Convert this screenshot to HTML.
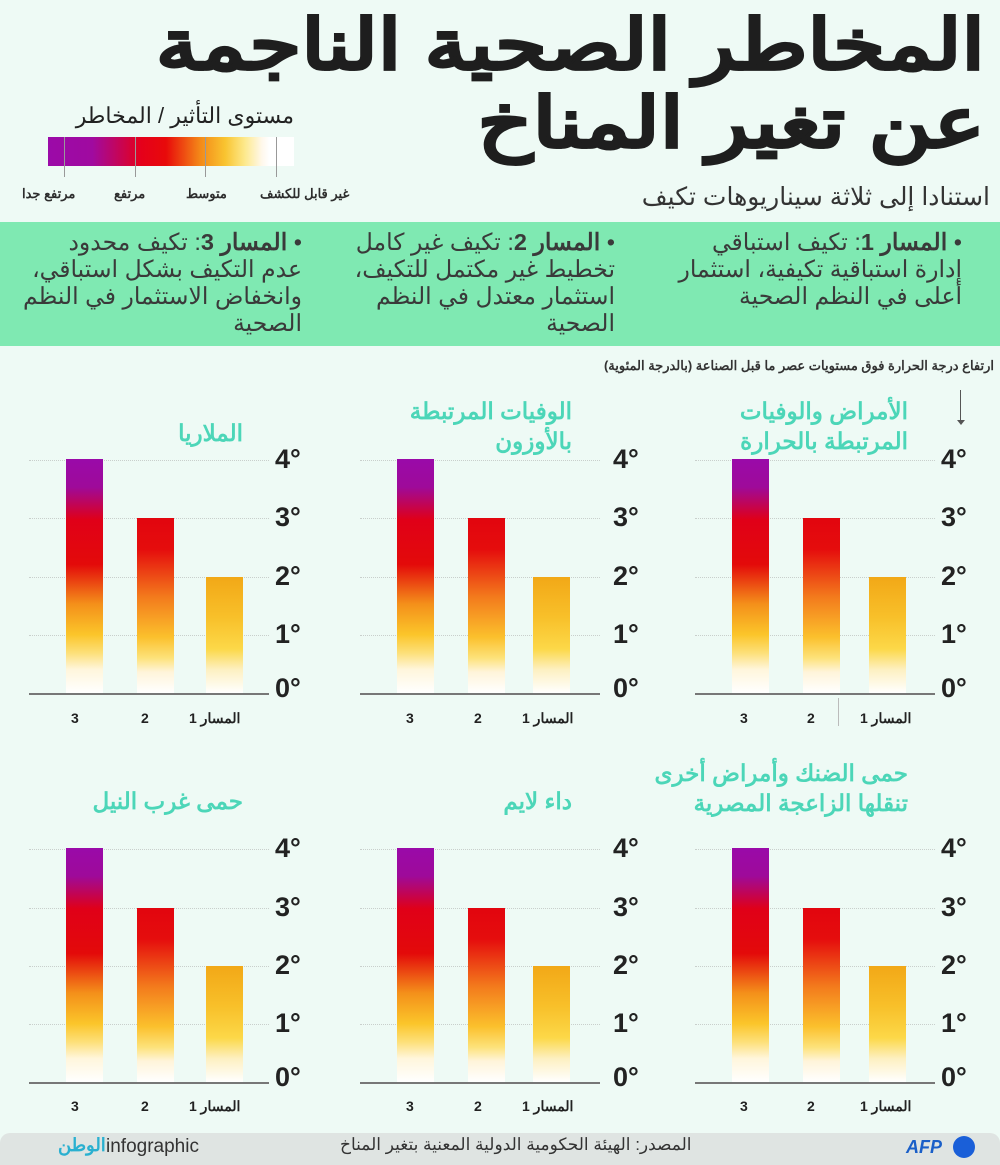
<!DOCTYPE html>
<html><head><meta charset="utf-8">
<style>
*{margin:0;padding:0;box-sizing:border-box}
body{width:1000px;height:1165px;background:#eefaf5;position:relative;overflow:hidden;font-family:"Liberation Sans","Noto Sans CJK SC",sans-serif;color:#2d2d2d}
.a{position:absolute}
.rt{direction:rtl;text-align:right;white-space:nowrap}
.title{right:15px;font-weight:bold;font-size:70px;color:#1e1e1e;line-height:1;transform-origin:right top;-webkit-text-stroke:1.5px #1e1e1e}
.band{left:0;top:222px;width:1000px;height:124px;background:#7fe9b2}
.col{font-size:23.5px;line-height:27px;color:#3a3a3a;direction:rtl;text-align:right;white-space:nowrap}
.ct{font-size:23px;font-weight:bold;color:#4cd6b8;line-height:30px;direction:rtl;text-align:right;white-space:nowrap}
.g{height:0;border-top:1px dotted #c9cfcc;width:240px}
.tk{font-family:"Liberation Sans Narrow","Liberation Sans",sans-serif;font-weight:bold;font-size:27px;color:#222;line-height:1}
.bl{height:2px;background:#777;width:240px}
.xl{font-size:14px;font-weight:bold;color:#222;direction:rtl;white-space:nowrap}
.b3{width:37px;background:linear-gradient(to bottom,#9a0aa9 0%,#9e0a9a 12%,#e00018 26%,#e30a0a 45%,#f4901a 62%,#fbc52a 75%,#fde07a 83%,#fff6dc 90%,#fff 100%)}
.b2{width:37px;background:linear-gradient(to bottom,#e2050e 0%,#e50d0d 18%,#f37a1c 45%,#fbc02c 68%,#fde27a 80%,#fff4da 88%,#fff 100%)}
.b1{width:37px;background:linear-gradient(to bottom,#f2a817 0%,#f8c02a 35%,#fcd848 62%,#fdf0c2 80%,#fff 100%)}
</style></head><body>

<div class="a title rt" style="top:10px;transform:scaleX(1.2)">المخاطر الصحية الناجمة</div>
<div class="a title rt" style="top:88px;transform:scaleX(1.22)">عن تغير المناخ</div>
<div class="a rt" style="right:10px;top:182px;font-size:25px;color:#333">استنادا إلى ثلاثة سيناريوهات تكيف</div>

<!-- legend -->
<div class="a rt" style="left:48px;width:246px;top:103px;font-size:22px;color:#222">مستوى التأثير / المخاطر</div>
<div class="a" style="left:48px;top:137px;width:246px;height:29px;background:linear-gradient(to right,#9b0aa8 0%,#a00aa0 18%,#e5001a 38%,#e80a0a 48%,#f48a18 62%,#f9c430 72%,#fde98c 80%,#fff8ec 87%,#fff 90%,#fff 100%)"></div>
<div class="a" style="left:64px;top:137px;width:1px;height:40px;background:#999"></div>
<div class="a" style="left:135px;top:137px;width:1px;height:40px;background:#999"></div>
<div class="a" style="left:205px;top:137px;width:1px;height:40px;background:#999"></div>
<div class="a" style="left:276px;top:137px;width:1px;height:40px;background:#999"></div>
<div class="a" style="left:22px;top:186px;font-size:13px;font-weight:bold;white-space:nowrap">مرتفع جدا</div>
<div class="a" style="left:114px;top:186px;font-size:13px;font-weight:bold;white-space:nowrap">مرتفع</div>
<div class="a" style="left:186px;top:186px;font-size:13px;font-weight:bold;white-space:nowrap">متوسط</div>
<div class="a" style="left:260px;top:186px;font-size:13px;font-weight:bold;white-space:nowrap">غير قابل للكشف</div>

<div class="a band"></div>
<div class="a col" style="right:38px;top:229px">• <b>المسار 1</b>: تكيف استباقي<br>إدارة استباقية تكيفية، استثمار<br>أعلى في النظم الصحية</div>
<div class="a col" style="right:385px;top:229px">• <b>المسار 2</b>: تكيف غير كامل<br>تخطيط غير مكتمل للتكيف،<br>استثمار معتدل في النظم<br>الصحية</div>
<div class="a col" style="right:698px;top:229px">• <b>المسار 3</b>: تكيف محدود<br>عدم التكيف بشكل استباقي،<br>وانخفاض الاستثمار في النظم<br>الصحية</div>

<div class="a rt" style="right:6px;top:358px;font-size:13px;font-weight:bold;color:#333">ارتفاع درجة الحرارة فوق مستويات عصر ما قبل الصناعة (بالدرجة المئوية)</div>
<div class="a" style="left:960px;top:390px;width:1px;height:32px;background:#555"></div>
<div class="a" style="left:957px;top:420px;width:0;height:0;border-left:4px solid transparent;border-right:4px solid transparent;border-top:5px solid #555"></div>

<!-- chart titles -->
<div class="a ct" style="right:92px;top:396px">الأمراض والوفيات<br>المرتبطة بالحرارة</div>
<div class="a ct" style="right:428px;top:396px">الوفيات المرتبطة<br>بالأوزون</div>
<div class="a ct" style="right:757px;top:418px">الملاريا</div>
<div class="a ct" style="right:92px;top:758px">حمى الضنك وأمراض أخرى<br>تنقلها الزاعجة المصرية</div>
<div class="a ct" style="right:428px;top:786px">داء لايم</div>
<div class="a ct" style="right:757px;top:786px">حمى غرب النيل</div>

<!-- TOP RIGHT -->
<div class="a" style="left:695px;top:0">
 <div class="a g" style="left:0;top:460px"></div><div class="a g" style="left:0;top:518px"></div><div class="a g" style="left:0;top:577px"></div><div class="a g" style="left:0;top:635px"></div>
 <div class="a tk" style="left:246px;top:446px">4°</div><div class="a tk" style="left:246px;top:504px">3°</div><div class="a tk" style="left:246px;top:563px">2°</div><div class="a tk" style="left:246px;top:621px">1°</div><div class="a tk" style="left:246px;top:675px">0°</div>
 <div class="a b3" style="left:37px;top:459px;height:234px"></div>
 <div class="a b2" style="left:108px;top:518px;height:175px"></div>
 <div class="a b1" style="left:174px;top:577px;height:116px"></div>
 <div class="a bl" style="left:0;top:693px"></div>
 <div class="a" style="left:143px;top:698px;width:1px;height:28px;background:#bbb"></div>
 <div class="a xl" style="left:45px;top:710px">3</div><div class="a xl" style="left:112px;top:710px">2</div><div class="a xl" style="left:165px;top:710px">المسار 1</div>
</div>
<!-- TOP MID -->
<div class="a" style="left:360px;top:0">
 <div class="a g" style="left:0;top:460px"></div><div class="a g" style="left:0;top:518px"></div><div class="a g" style="left:0;top:577px"></div><div class="a g" style="left:0;top:635px"></div>
 <div class="a tk" style="left:253px;top:446px">4°</div><div class="a tk" style="left:253px;top:504px">3°</div><div class="a tk" style="left:253px;top:563px">2°</div><div class="a tk" style="left:253px;top:621px">1°</div><div class="a tk" style="left:253px;top:675px">0°</div>
 <div class="a b3" style="left:37px;top:459px;height:234px"></div>
 <div class="a b2" style="left:108px;top:518px;height:175px"></div>
 <div class="a b1" style="left:173px;top:577px;height:116px"></div>
 <div class="a bl" style="left:0;top:693px"></div>
 <div class="a xl" style="left:46px;top:710px">3</div><div class="a xl" style="left:114px;top:710px">2</div><div class="a xl" style="left:162px;top:710px">المسار 1</div>
</div>
<!-- TOP LEFT -->
<div class="a" style="left:29px;top:0">
 <div class="a g" style="left:0;top:460px"></div><div class="a g" style="left:0;top:518px"></div><div class="a g" style="left:0;top:577px"></div><div class="a g" style="left:0;top:635px"></div>
 <div class="a tk" style="left:246px;top:446px">4°</div><div class="a tk" style="left:246px;top:504px">3°</div><div class="a tk" style="left:246px;top:563px">2°</div><div class="a tk" style="left:246px;top:621px">1°</div><div class="a tk" style="left:246px;top:675px">0°</div>
 <div class="a b3" style="left:37px;top:459px;height:234px"></div>
 <div class="a b2" style="left:108px;top:518px;height:175px"></div>
 <div class="a b1" style="left:177px;top:577px;height:116px"></div>
 <div class="a bl" style="left:0;top:693px"></div>
 <div class="a xl" style="left:42px;top:710px">3</div><div class="a xl" style="left:112px;top:710px">2</div><div class="a xl" style="left:160px;top:710px">المسار 1</div>
</div>

<!-- BOTTOM RIGHT -->
<div class="a" style="left:695px;top:0">
 <div class="a g" style="left:0;top:849px"></div><div class="a g" style="left:0;top:908px"></div><div class="a g" style="left:0;top:966px"></div><div class="a g" style="left:0;top:1024px"></div>
 <div class="a tk" style="left:246px;top:835px">4°</div><div class="a tk" style="left:246px;top:894px">3°</div><div class="a tk" style="left:246px;top:952px">2°</div><div class="a tk" style="left:246px;top:1010px">1°</div><div class="a tk" style="left:246px;top:1064px">0°</div>
 <div class="a b3" style="left:37px;top:848px;height:234px"></div>
 <div class="a b2" style="left:108px;top:908px;height:174px"></div>
 <div class="a b1" style="left:174px;top:966px;height:116px"></div>
 <div class="a bl" style="left:0;top:1082px"></div>
 <div class="a xl" style="left:45px;top:1098px">3</div><div class="a xl" style="left:112px;top:1098px">2</div><div class="a xl" style="left:165px;top:1098px">المسار 1</div>
</div>
<!-- BOTTOM MID -->
<div class="a" style="left:360px;top:0">
 <div class="a g" style="left:0;top:849px"></div><div class="a g" style="left:0;top:908px"></div><div class="a g" style="left:0;top:966px"></div><div class="a g" style="left:0;top:1024px"></div>
 <div class="a tk" style="left:253px;top:835px">4°</div><div class="a tk" style="left:253px;top:894px">3°</div><div class="a tk" style="left:253px;top:952px">2°</div><div class="a tk" style="left:253px;top:1010px">1°</div><div class="a tk" style="left:253px;top:1064px">0°</div>
 <div class="a b3" style="left:37px;top:848px;height:234px"></div>
 <div class="a b2" style="left:108px;top:908px;height:174px"></div>
 <div class="a b1" style="left:173px;top:966px;height:116px"></div>
 <div class="a bl" style="left:0;top:1082px"></div>
 <div class="a xl" style="left:46px;top:1098px">3</div><div class="a xl" style="left:114px;top:1098px">2</div><div class="a xl" style="left:162px;top:1098px">المسار 1</div>
</div>
<!-- BOTTOM LEFT -->
<div class="a" style="left:29px;top:0">
 <div class="a g" style="left:0;top:849px"></div><div class="a g" style="left:0;top:908px"></div><div class="a g" style="left:0;top:966px"></div><div class="a g" style="left:0;top:1024px"></div>
 <div class="a tk" style="left:246px;top:835px">4°</div><div class="a tk" style="left:246px;top:894px">3°</div><div class="a tk" style="left:246px;top:952px">2°</div><div class="a tk" style="left:246px;top:1010px">1°</div><div class="a tk" style="left:246px;top:1064px">0°</div>
 <div class="a b3" style="left:37px;top:848px;height:234px"></div>
 <div class="a b2" style="left:108px;top:908px;height:174px"></div>
 <div class="a b1" style="left:177px;top:966px;height:116px"></div>
 <div class="a bl" style="left:0;top:1082px"></div>
 <div class="a xl" style="left:42px;top:1098px">3</div><div class="a xl" style="left:112px;top:1098px">2</div><div class="a xl" style="left:160px;top:1098px">المسار 1</div>
</div>

<!-- footer -->
<div class="a" style="left:0;top:1133px;width:1000px;height:32px;background:#dfe4e2;border-radius:10px 10px 0 0"></div>
<div class="a" style="left:106px;top:1136px;font-size:19px;color:#333;font-family:'Liberation Sans Narrow','Liberation Sans',sans-serif">infographic</div>
<div class="a" style="left:58px;top:1135px;font-size:18px;font-weight:bold;color:#2ab0d0;direction:rtl">الوطن</div>
<div class="a rt" style="left:340px;top:1135px;font-size:17px;color:#333">المصدر: الهيئة الحكومية الدولية المعنية بتغير المناخ</div>
<div class="a" style="left:906px;top:1137px;font-size:18px;font-weight:bold;font-style:italic;color:#1a5fc8">AFP</div>
<div class="a" style="left:953px;top:1136px;width:22px;height:22px;border-radius:50%;background:#1a5fd8"></div>
</body></html>
